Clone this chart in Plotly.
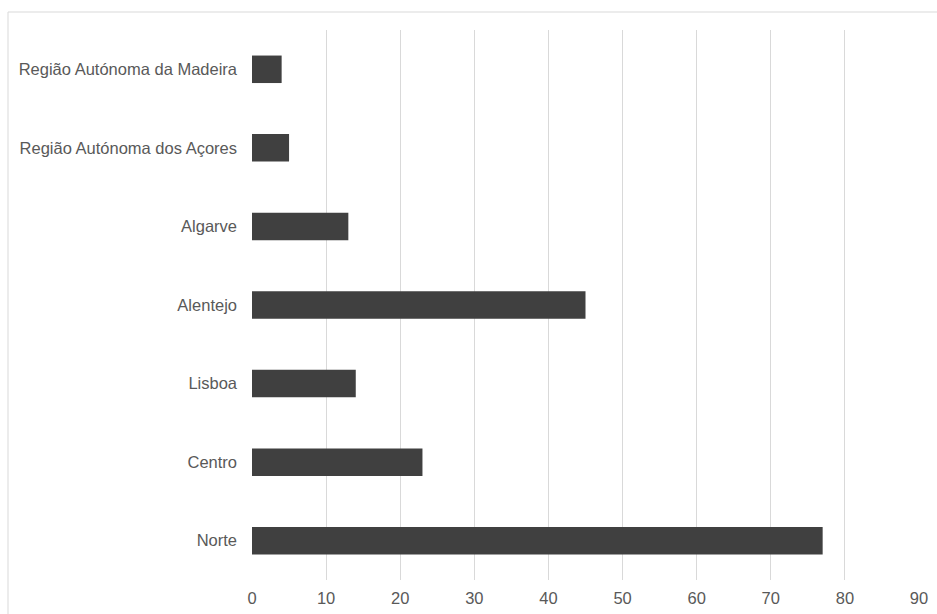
import plotly.graph_objects as go

regions = [
    "Norte",
    "Centro",
    "Lisboa",
    "Alentejo",
    "Algarve",
    "Região Autónoma dos Açores",
    "Região Autónoma da Madeira",
]
values = [77, 23, 14, 45, 13, 5, 4]
x_ticks = [0, 10, 20, 30, 40, 50, 60, 70, 80, 90]

W, H = 937, 614
L, R, T, B = 252, 18, 30, 34
pw, ph = W - L - R, H - T - B

fig = go.Figure(
    go.Bar(
        x=values,
        y=regions,
        orientation="h",
        marker=dict(color="#404040", line=dict(width=0)),
        width=0.35,
    )
)

# outer frame of the chart area
fig.add_shape(
    type="rect",
    xref="paper", yref="paper",
    x0=(8 - L) / pw, x1=(W + 5 - L) / pw,
    y0=(H - B - (H + 5)) / ph, y1=(H - B - 12) / ph,
    line=dict(color="#d9d9d9", width=1),
    fillcolor="rgba(0,0,0,0)",
    layer="below",
)

fig.update_layout(
    width=W,
    height=H,
    margin=dict(l=L, r=R, t=T, b=B),
    paper_bgcolor="white",
    plot_bgcolor="white",
    showlegend=False,
    font=dict(family="Liberation Sans, Arial, sans-serif", size=16.5, color="#595959"),
    xaxis=dict(
        range=[0, 90],
        tickvals=x_ticks,
        showgrid=True,
        gridcolor="#d9d9d9",
        gridwidth=1,
        zeroline=False,
        showline=False,
        ticks="",
        ticklabelstandoff=6,
        automargin=False,
    ),
    yaxis=dict(
        categoryorder="array",
        categoryarray=regions,
        range=[-0.5, 6.5],
        showgrid=False,
        zeroline=False,
        showline=False,
        ticks="",
        ticklabelstandoff=14,
        automargin=False,
    ),
)

fig.write_html("out.html")
